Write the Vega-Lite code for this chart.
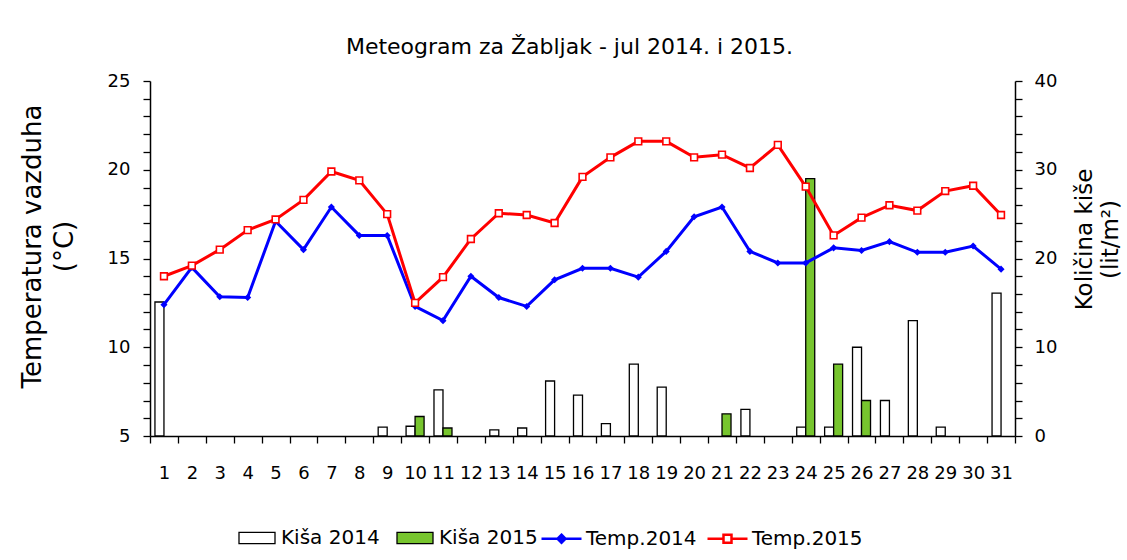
{
  "$schema": "https://vega.github.io/schema/vega-lite/v6.json",
  "width": 865,
  "height": 355,
  "autosize": "none",
  "padding": {"left": 150, "top": 81, "right": 112, "bottom": 124},
  "background": "white",
  "title": {"text": "Meteogram za Žabljak - jul 2014. i 2015.", "fontSize": 22, "fontWeight": "normal", "font": "DejaVu Sans", "color": "black", "anchor": "middle", "dx": -13, "offset": 13},
  "config": {
    "font": "DejaVu Sans",
    "view": {"stroke": null},
    "axis": {"domainColor": "black", "domainWidth": 1.5, "tickColor": "black", "tickWidth": 1.3, "tickSize": 7, "labelColor": "black", "labelFont": "DejaVu Sans", "labelFontSize": 18, "titleColor": "black", "titleFont": "DejaVu Sans", "titleFontWeight": "normal", "grid": false}
  },
  "data": {"values": [
    {"day": 1, "series": "Temp.2014", "value": 12.4},
    {"day": 2, "series": "Temp.2014", "value": 14.5},
    {"day": 3, "series": "Temp.2014", "value": 12.85},
    {"day": 4, "series": "Temp.2014", "value": 12.8},
    {"day": 5, "series": "Temp.2014", "value": 17.1},
    {"day": 6, "series": "Temp.2014", "value": 15.5},
    {"day": 7, "series": "Temp.2014", "value": 17.9},
    {"day": 8, "series": "Temp.2014", "value": 16.3},
    {"day": 9, "series": "Temp.2014", "value": 16.3},
    {"day": 10, "series": "Temp.2014", "value": 12.3},
    {"day": 11, "series": "Temp.2014", "value": 11.5},
    {"day": 12, "series": "Temp.2014", "value": 14.0},
    {"day": 13, "series": "Temp.2014", "value": 12.8},
    {"day": 14, "series": "Temp.2014", "value": 12.3},
    {"day": 15, "series": "Temp.2014", "value": 13.8},
    {"day": 16, "series": "Temp.2014", "value": 14.45},
    {"day": 17, "series": "Temp.2014", "value": 14.45},
    {"day": 18, "series": "Temp.2014", "value": 13.95},
    {"day": 19, "series": "Temp.2014", "value": 15.4},
    {"day": 20, "series": "Temp.2014", "value": 17.35},
    {"day": 21, "series": "Temp.2014", "value": 17.9},
    {"day": 22, "series": "Temp.2014", "value": 15.4},
    {"day": 23, "series": "Temp.2014", "value": 14.75},
    {"day": 24, "series": "Temp.2014", "value": 14.75},
    {"day": 25, "series": "Temp.2014", "value": 15.6},
    {"day": 26, "series": "Temp.2014", "value": 15.45},
    {"day": 27, "series": "Temp.2014", "value": 15.95},
    {"day": 28, "series": "Temp.2014", "value": 15.35},
    {"day": 29, "series": "Temp.2014", "value": 15.35},
    {"day": 30, "series": "Temp.2014", "value": 15.7},
    {"day": 31, "series": "Temp.2014", "value": 14.4},
    {"day": 1, "series": "Temp.2015", "value": 14.0},
    {"day": 2, "series": "Temp.2015", "value": 14.6},
    {"day": 3, "series": "Temp.2015", "value": 15.5},
    {"day": 4, "series": "Temp.2015", "value": 16.6},
    {"day": 5, "series": "Temp.2015", "value": 17.2},
    {"day": 6, "series": "Temp.2015", "value": 18.3},
    {"day": 7, "series": "Temp.2015", "value": 19.9},
    {"day": 8, "series": "Temp.2015", "value": 19.4},
    {"day": 9, "series": "Temp.2015", "value": 17.5},
    {"day": 10, "series": "Temp.2015", "value": 12.5},
    {"day": 11, "series": "Temp.2015", "value": 13.95},
    {"day": 12, "series": "Temp.2015", "value": 16.1},
    {"day": 13, "series": "Temp.2015", "value": 17.55},
    {"day": 14, "series": "Temp.2015", "value": 17.45},
    {"day": 15, "series": "Temp.2015", "value": 17.0},
    {"day": 16, "series": "Temp.2015", "value": 19.6},
    {"day": 17, "series": "Temp.2015", "value": 20.7},
    {"day": 18, "series": "Temp.2015", "value": 21.6},
    {"day": 19, "series": "Temp.2015", "value": 21.6},
    {"day": 20, "series": "Temp.2015", "value": 20.7},
    {"day": 21, "series": "Temp.2015", "value": 20.85},
    {"day": 22, "series": "Temp.2015", "value": 20.1},
    {"day": 23, "series": "Temp.2015", "value": 21.4},
    {"day": 24, "series": "Temp.2015", "value": 19.05},
    {"day": 25, "series": "Temp.2015", "value": 16.3},
    {"day": 26, "series": "Temp.2015", "value": 17.3},
    {"day": 27, "series": "Temp.2015", "value": 18.0},
    {"day": 28, "series": "Temp.2015", "value": 17.7},
    {"day": 29, "series": "Temp.2015", "value": 18.8},
    {"day": 30, "series": "Temp.2015", "value": 19.1},
    {"day": 31, "series": "Temp.2015", "value": 17.45},
    {"day": 1, "series": "Kiša 2014", "value": 15.1},
    {"day": 9, "series": "Kiša 2014", "value": 1.0},
    {"day": 10, "series": "Kiša 2014", "value": 1.1},
    {"day": 11, "series": "Kiša 2014", "value": 5.2},
    {"day": 13, "series": "Kiša 2014", "value": 0.7},
    {"day": 14, "series": "Kiša 2014", "value": 0.9},
    {"day": 15, "series": "Kiša 2014", "value": 6.2},
    {"day": 16, "series": "Kiša 2014", "value": 4.6},
    {"day": 17, "series": "Kiša 2014", "value": 1.4},
    {"day": 18, "series": "Kiša 2014", "value": 8.1},
    {"day": 19, "series": "Kiša 2014", "value": 5.5},
    {"day": 22, "series": "Kiša 2014", "value": 3.0},
    {"day": 24, "series": "Kiša 2014", "value": 1.0},
    {"day": 25, "series": "Kiša 2014", "value": 1.0},
    {"day": 26, "series": "Kiša 2014", "value": 10.0},
    {"day": 27, "series": "Kiša 2014", "value": 4.0},
    {"day": 28, "series": "Kiša 2014", "value": 13.0},
    {"day": 29, "series": "Kiša 2014", "value": 1.0},
    {"day": 31, "series": "Kiša 2014", "value": 16.1},
    {"day": 10, "series": "Kiša 2015", "value": 2.2},
    {"day": 11, "series": "Kiša 2015", "value": 0.9},
    {"day": 21, "series": "Kiša 2015", "value": 2.5},
    {"day": 24, "series": "Kiša 2015", "value": 29.0},
    {"day": 25, "series": "Kiša 2015", "value": 8.1},
    {"day": 26, "series": "Kiša 2015", "value": 4.0}
  ]},
  "encoding": {
    "x": {"field": "day", "type": "ordinal", "scale": {"paddingInner": 0, "paddingOuter": 0},
      "axis": {"title": null, "labelAngle": 0, "tickBand": "extent", "labelPadding": 21, "labelOverlap": false, "labelFlush": false, "labelFontSize": 18}}
  },
  "layer": [
    {
      "transform": [{"filter": {"field": "series", "oneOf": ["Kiša 2014", "Kiša 2015"]}}],
      "mark": {"type": "bar", "stroke": "black", "strokeWidth": 1.3},
      "encoding": {
        "xOffset": {"field": "series", "type": "nominal", "scale": {"domain": ["Kiša 2014", "Kiša 2015"], "paddingInner": 0, "paddingOuter": 0.55}},
        "y": {"field": "value", "type": "quantitative", "scale": {"domain": [0, 40], "nice": false},
          "axis": {"orient": "right", "values": [0,2,4,6,8,10,12,14,16,18,20,22,24,26,28,30,32,34,36,38,40], "labelExpr": "datum.value % 10 === 0 ? datum.label : ''", "labelPadding": 12, "title": ["Količina kiše", "(lit/m²)"], "titleAngle": 270, "titleFontSize": 23, "titleLineHeight": 26, "titlePadding": 14, "titleY": 158}},
        "fill": {"field": "series", "type": "nominal",
          "scale": {"domain": ["Kiša 2014", "Kiša 2015"], "range": ["#ffffff", "#77c52e"]},
          "legend": {"title": null, "orient": "none", "legendX": 86, "legendY": 436, "direction": "horizontal", "columns": 2, "columnPadding": 14, "padding": 0, "symbolType": "M-0.9,-0.28H0.9V0.28H-0.9Z", "symbolSize": 1600, "symbolStrokeColor": "black", "symbolStrokeWidth": 1.3, "symbolOpacity": 1, "labelOffset": 3, "labelFontSize": 20, "labelFont": "DejaVu Sans", "labelColor": "black"}
        }
      }
    },
    {
      "transform": [{"filter": {"field": "series", "oneOf": ["Temp.2014", "Temp.2015"]}}],
      "encoding": {
        "y": {"field": "value", "type": "quantitative", "scale": {"domain": [5, 25], "nice": false},
          "axis": {"orient": "left", "values": [5,6,7,8,9,10,11,12,13,14,15,16,17,18,19,20,21,22,23,24,25], "labelExpr": "datum.value % 5 === 0 ? datum.label : ''", "labelPadding": 13, "title": ["Temperatura vazduha", "(°C)"], "titleAngle": 270, "titleFontSize": 26, "titleLineHeight": 32, "titlePadding": 30, "titleY": 165}}
      },
      "layer": [
        {
          "mark": {"type": "line", "strokeWidth": 3},
          "encoding": {
            "stroke": {"field": "series", "type": "nominal",
              "scale": {"domain": ["Temp.2014", "Temp.2015"], "range": ["#0000ff", "#ff0000"]},
              "legend": {"title": null, "orient": "none", "legendX": 390, "legendY": 436, "direction": "horizontal", "columns": 2, "columnPadding": 5, "padding": 0, "symbolSize": 1600, "symbolStrokeWidth": 2.5, "symbolOpacity": 1, "labelOffset": 3, "labelFontSize": 20, "labelFont": "DejaVu Sans", "labelColor": "black",
                "encode": {"symbols": {"update": {
                  "shape": {"signal": "datum.value === 'Temp.2014' ? 'M-1,0H1M0,-0.2L0.2,0L0,0.2L-0.2,0Z' : 'M-1,0H-0.2M0.2,0H1M-0.2,-0.2H0.2V0.2H-0.2Z'"},
                  "fill": {"signal": "datum.value === 'Temp.2014' ? '#0000ff' : '#ffffff'"}
                }}}}
            }
          }
        },
        {
          "transform": [{"filter": {"field": "series", "equal": "Temp.2014"}}],
          "mark": {"type": "point", "shape": "diamond", "filled": true, "color": "#0000ff", "size": 50, "opacity": 1}
        },
        {
          "transform": [{"filter": {"field": "series", "equal": "Temp.2015"}}],
          "mark": {"type": "point", "shape": "square", "filled": false, "fill": "white", "stroke": "#ff0000", "strokeWidth": 1.6, "size": 45, "opacity": 1}
        }
      ]
    }
  ],
  "resolve": {"scale": {"y": "independent"}}
}
